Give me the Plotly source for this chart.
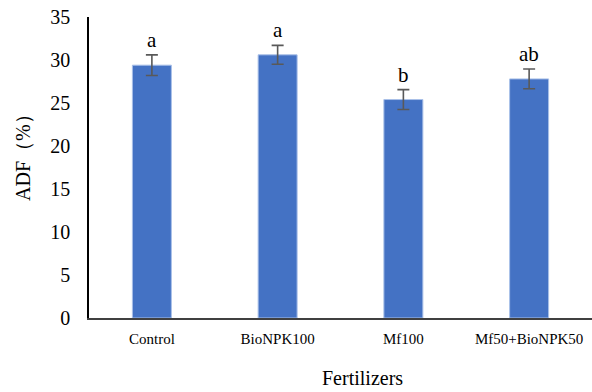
import plotly.graph_objects as go

# Acid detergent fibre by fertilizer treatment
categories = ["Control", "BioNPK100", "Mf100", "Mf50+BioNPK50"]
adf_mean = [29.4, 30.6, 25.4, 27.8]
adf_err = [1.2, 1.1, 1.15, 1.15]
group_letters = ["a", "a", "b", "ab"]
y_ticks = [0, 5, 10, 15, 20, 25, 30, 35]

serif = "Times New Roman"

fig = go.Figure()
fig.add_trace(go.Bar(
    x=categories,
    y=adf_mean,
    width=0.31,
    marker=dict(color="#4472C4", line=dict(color="#A9C0E8", width=1)),
    error_y=dict(type="data", array=adf_err, visible=True,
                 color="#595959", thickness=1.6, width=6),
))

# Significance letters above each error bar
for cat, m, e, lab in zip(categories, adf_mean, adf_err, group_letters):
    fig.add_annotation(x=cat, y=m + e, text=lab, showarrow=False,
                       yanchor="bottom", yshift=1,
                       font=dict(family=serif, size=21, color="#000000"))

# Axis titles placed as free text
fig.add_annotation(xref="paper", yref="paper", x=(362 - 89) / 503, y=-(378 - 318) / 301,
                   text="Fertilizers", showarrow=False, xanchor="center", yanchor="middle",
                   font=dict(family=serif, size=20, color="#000000"))
fig.add_annotation(xref="paper", yref="paper", x=-(89 - 23) / 503, y=(318 - 153) / 301,
                   text="ADF（%）", showarrow=False, textangle=-90,
                   xanchor="center", yanchor="middle",
                   font=dict(family=serif, size=20, color="#000000"))

fig.update_layout(
    width=592, height=392,
    margin=dict(l=89, r=0, t=17, b=74),
    paper_bgcolor="white", plot_bgcolor="white",
    showlegend=False,
    bargap=0.69,
    xaxis=dict(
        range=[-0.5, 3.5],
        showline=True, linecolor="#404040", linewidth=1.5,
        ticks="", showgrid=False,
        tickfont=dict(family=serif, size=15, color="#000000"),
        ticklabelstandoff=6,
    ),
    yaxis=dict(
        range=[0, 35], tickvals=y_ticks,
        showline=True, linecolor="#000000", linewidth=1.5,
        ticks="", showgrid=False, zeroline=False,
        tickfont=dict(family=serif, size=20, color="#000000"),
        ticklabelstandoff=13,
    ),
)

fig.write_html("out.html")
